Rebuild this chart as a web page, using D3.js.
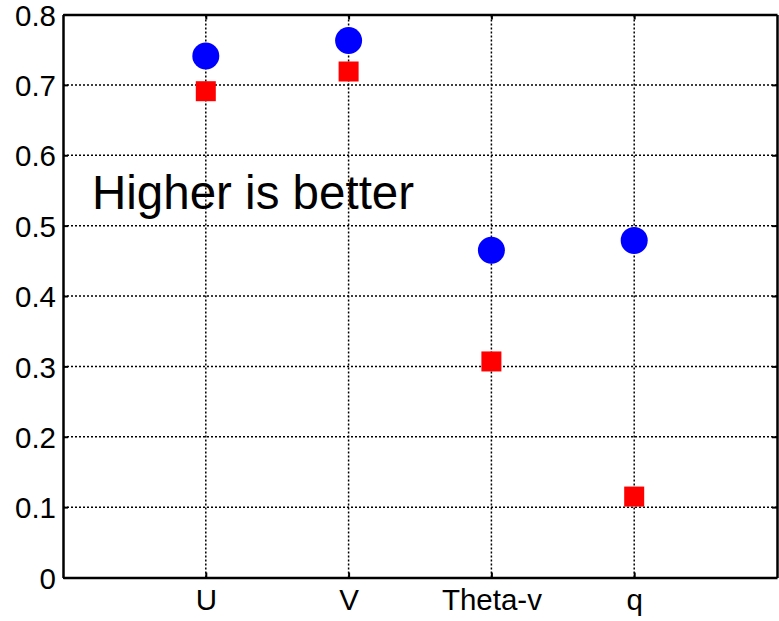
<!DOCTYPE html>
<html>
<head>
<meta charset="utf-8">
<script src="https://cdn.jsdelivr.net/npm/d3@7"></script>
<style>
  html, body { margin: 0; padding: 0; background: #fff; }
  svg { display: block; }
  text { font-family: "Liberation Sans", Arial, sans-serif; fill: #000; }
</style>
</head>
<body>
<script>
// Skill scores per variable
const categories = ["U", "V", "Theta-v", "q"];
const circleScores = [0.741, 0.763, 0.465, 0.479];
const squareScores = [0.691, 0.719, 0.307, 0.115];
const yTickValues = [0, 0.1, 0.2, 0.3, 0.4, 0.5, 0.6, 0.7, 0.8];
const annotation = "Higher is better";

const W = 779, H = 621;
const plot = { left: 63, top: 14.5, right: 777, bottom: 577.5 };

const svg = d3.select("body").append("svg")
  .attr("width", W).attr("height", H);

// categories sit at positions 1..4 on a 0..5 axis
const x = d3.scaleLinear().domain([0, categories.length + 1]).range([plot.left, plot.right]);
const y = d3.scaleLinear().domain([0, 0.8]).range([plot.bottom, plot.top]);
const catPos = categories.map((c, i) => i + 1);

const fmt = d => d === 0 ? "0" : d3.format(".1f")(d);

// dotted grid
const grid = svg.append("g")
  .attr("stroke", "#000").attr("stroke-width", 1.5).attr("stroke-dasharray", "2,2");
grid.selectAll("line.h")
  .data(yTickValues.filter(v => v > 0 && v < 0.8))
  .join("line").attr("class", "h")
  .attr("x1", plot.left).attr("x2", plot.right)
  .attr("y1", d => y(d)).attr("y2", d => y(d));
grid.selectAll("line.v")
  .data(catPos)
  .join("line").attr("class", "v")
  .attr("y1", plot.bottom).attr("y2", plot.top)
  .attr("x1", d => x(d)).attr("x2", d => x(d));

// axes with inward ticks
const axisStyle = g => {
  g.select(".domain").attr("stroke", "#000").attr("stroke-width", 2.5);
  g.selectAll(".tick line").attr("stroke", "#000").attr("stroke-width", 2);
  g.selectAll(".tick text").attr("font-size", 29.5).attr("fill", "#000")
    .style("font-family", '"Liberation Sans", Arial, sans-serif');
};

svg.append("g")
  .attr("transform", `translate(${plot.left},0)`)
  .call(d3.axisLeft(y).tickValues(yTickValues).tickFormat(fmt)
    .tickSizeInner(-5).tickSizeOuter(0).tickPadding(7))
  .call(axisStyle)
  .call(g => g.selectAll(".tick text").attr("dy", "0.36em"));

svg.append("g")
  .attr("transform", `translate(0,${plot.bottom})`)
  .call(d3.axisBottom(x).tickValues(catPos).tickFormat(d => categories[d - 1])
    .tickSizeInner(-5).tickSizeOuter(0).tickPadding(12))
  .call(axisStyle);

svg.append("g")
  .attr("transform", `translate(0,${plot.top})`)
  .call(d3.axisTop(x).tickValues(catPos).tickFormat("")
    .tickSizeInner(-5).tickSizeOuter(0))
  .call(axisStyle);

svg.append("g")
  .attr("transform", `translate(${plot.right},0)`)
  .call(d3.axisRight(y).tickValues(yTickValues).tickFormat("")
    .tickSizeInner(-5).tickSizeOuter(0))
  .call(axisStyle);

// markers
const sq = 20;
svg.append("g").selectAll("rect")
  .data(squareScores)
  .join("rect")
  .attr("x", (d, i) => x(catPos[i]) - sq / 2)
  .attr("y", d => y(d) - sq / 2)
  .attr("width", sq).attr("height", sq)
  .attr("fill", "#ff0000");

svg.append("g").selectAll("circle")
  .data(circleScores)
  .join("circle")
  .attr("cx", (d, i) => x(catPos[i]))
  .attr("cy", d => y(d))
  .attr("r", 13.5)
  .attr("fill", "#0000ff");

// annotation
svg.append("text")
  .attr("x", 92).attr("y", 209)
  .attr("font-size", 47.5)
  .text(annotation);
</script>
</body>
</html>
